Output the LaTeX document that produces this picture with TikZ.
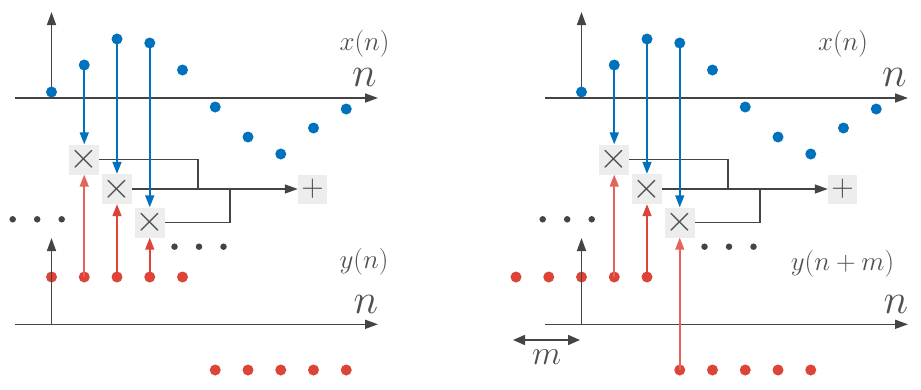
\RequirePackage{fix-cm}
\documentclass[tikz,border=0pt]{standalone}
\usetikzlibrary{arrows.meta}
\definecolor{cblue}{RGB}{0,114,189}
\definecolor{cred}{RGB}{219,68,55}
\definecolor{credl}{RGB}{228,100,90}
\definecolor{cgray}{RGB}{68,68,68}
\definecolor{ctext}{RGB}{80,80,80}
\definecolor{cbox}{RGB}{237,237,237}
\tikzset{
 bdot/.style={circle,fill=cblue,minimum size=11pt,inner sep=0pt},
 rdot/.style={circle,fill=cred,minimum size=11pt,inner sep=0pt},
 sdot/.style={circle,fill=cgray,minimum size=6.5pt,inner sep=0pt},
 mulbox/.style={fill=cbox,minimum size=30pt,inner sep=0pt,text=ctext,font=\fontsize{37}{37}\selectfont},
 axisline/.style={cgray,line width=1.6pt,-{Triangle[length=13pt,width=9pt]}},
 bstem/.style={cblue,line width=1.6pt,-{Triangle[length=12pt,width=9pt]}},
 rstem/.style={cred,line width=1.6pt,-{Triangle[length=12pt,width=9pt]}},
 wire/.style={cgray,line width=1.3pt},
 lbl/.style={text=ctext,inner sep=0pt,font=\fontsize{27}{31}\selectfont},
 nlbl/.style={text=ctext,inner sep=0pt,font=\fontsize{42}{46}\selectfont},
 mlbl/.style={text=ctext,inner sep=0pt,font=\fontsize{34}{38}\selectfont},
}
\newcommand\panelcommon{%
  \coordinate (ax0) at (15,98); \coordinate (ax1) at (378,98);
  \coordinate (o1) at (51.5,98); \coordinate (o1t) at (51.5,12);
  \draw[axisline] (ax0) -- (ax1);
  \draw[axisline] (o1) -- (o1t);
  \foreach \i/\y in {0/92,1/65,2/39,3/43,4/70,5/107,6/137,7/154,8/128,9/109}
    \node[bdot] (x\i) at ({51.5+32.75*\i},\y) {};
  \node[mulbox] (b1) at (84.25,159.5) {$\times$};
  \node[mulbox] (b2) at (117,189) {$\times$};
  \node[mulbox] (b3) at (149.75,222.5) {$\times$};
  \node[fill=cbox,minimum size=29pt,inner sep=0pt,text=ctext,font=\fontsize{31}{31}\selectfont] (plus) at (312.5,189) {$+$};
  \coordinate (j1) at (198,189);
  \coordinate (j2) at (230,189);
  \draw[wire] (b1.east) -| (j1);
  \draw[wire] (b3.east) -| (j2);
  \draw[wire,-{Triangle[length=13pt,width=9pt]}] (b2.east) -- (plus.west);
  \draw[bstem] (x1.center) -- (b1.north);
  \draw[bstem] (x2.center) -- (b2.north);
  \draw[bstem] (x3.center) -- (b3.north);
  \foreach \i/\x in {0/12.7,1/37.2,2/61.7} \node[sdot] (ld\i) at (\x,219.3) {};
  \foreach \i/\x in {0/174.5,1/199,2/223.5} \node[sdot] (rd\i) at (\x,246.7) {};
  \node[nlbl] (n1) at (364.5,77.5) {$n$};
  \node[nlbl] (n2) at (366,304.5) {$n$};
}
\newcommand\loweraxis{%
  \coordinate (bx0) at (15,324.3); \coordinate (bx1) at (378,324.3);
  \coordinate (o2) at (51.5,324.3); \coordinate (o2t) at (51.5,238);
  \draw[axisline] (bx0) -- (bx1);
  \draw[axisline] (o2) -- (o2t);
}
\begin{document}
\begin{tikzpicture}[x=1pt,y=-1pt]
\path[fill=white] (0,0) rectangle (921,389);
\useasboundingbox (0,0) rectangle (921,389);
% ---------------- left panel
\begin{scope}[name prefix=L-]
  \panelcommon
  \foreach \i in {0,...,4} \node[rdot] (y\i) at ({51.5+32.75*\i},277) {};
  \foreach \i in {5,...,9} \node[rdot] (y\i) at ({51.5+32.75*\i},370) {};
  \loweraxis
  \draw[rstem,credl] (y1.center) -- (b1.south);
  \draw[rstem] (y2.center) -- (b2.south);
  \draw[rstem] (y3.center) -- (b3.south);
  \node[lbl] (lx) at (364.5,43.5) {$x(n)$};
  \node[lbl] (ly) at (364,262) {$y(n)$};
\end{scope}
% ---------------- right panel
\begin{scope}[xshift=530pt,name prefix=R-]
  \panelcommon
  \foreach \i in {0,...,4} \node[rdot] (y\i) at ({51.5+32.75*(\i-2)},277) {};
  \foreach \i in {5,...,9} \node[rdot] (y\i) at ({51.5+32.75*(\i-2)},370) {};
  \loweraxis
  \draw[rstem,credl] (y3.center) -- (b1.south);
  \draw[rstem] (y4.center) -- (b2.south);
  \draw[rstem,credl] (y5.center) -- (b3.south);
  \node[lbl] (lx) at (313,43.5) {$x(n)$};
  \node[lbl] (ly) at (312.5,263.3) {$y(n+m)$};
  \coordinate (ma) at (-17,340);
  \coordinate (mb) at (50,340);
  \draw[cgray,line width=1.6pt,{Triangle[length=12pt,width=10pt]}-{Triangle[length=12pt,width=10pt]}] (ma) -- (mb);
  \node[mlbl] (ml) at (16.7,357.5) {$m$};
\end{scope}
\end{tikzpicture}
\end{document}
